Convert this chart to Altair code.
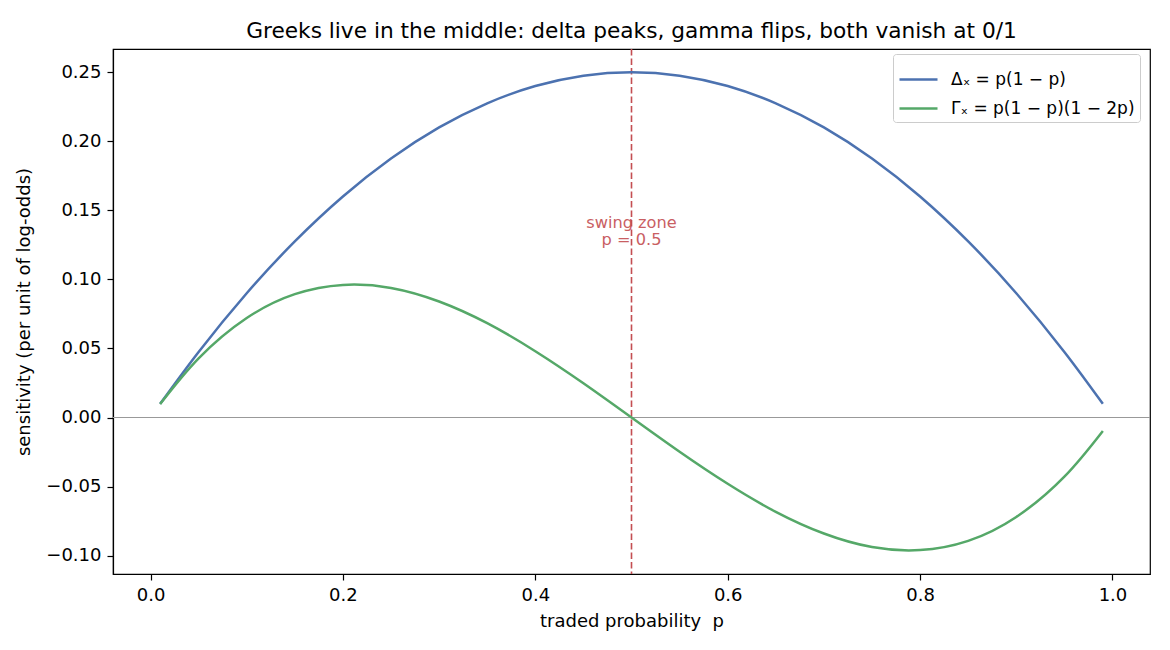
import altair as alt
import pandas as pd

# values
p_vals = [0.01, 0.05, 0.10, 0.15, 0.20, 0.25, 0.30, 0.35, 0.40, 0.45, 0.50,
          0.55, 0.60, 0.65, 0.70, 0.75, 0.80, 0.85, 0.90, 0.95, 0.99]
delta_vals = [0.0099, 0.0475, 0.090, 0.1275, 0.160, 0.1875, 0.210, 0.2275, 0.240, 0.2475, 0.250,
              0.2475, 0.240, 0.2275, 0.210, 0.1875, 0.160, 0.1275, 0.090, 0.0475, 0.0099]
gamma_vals = [0.0097, 0.0428, 0.072, 0.0893, 0.096, 0.0938, 0.084, 0.0683, 0.048, 0.0248, 0.0,
              -0.0248, -0.048, -0.0683, -0.084, -0.0938, -0.096, -0.0893, -0.072, -0.0428, -0.0097]
series_names = ["Δₓ = p(1 − p)", "Γₓ = p(1 − p)(1 − 2p)"]
series_colors = ["#4C72B0", "#55A868"]
x_ticks = [0.0, 0.2, 0.4, 0.6, 0.8, 1.0]
y_ticks = [-0.10, -0.05, 0.0, 0.05, 0.10, 0.15, 0.20, 0.25]
swing_p = [0.5]
zero_y = [0.0]
annot = pd.DataFrame({"p": [0.5], "y": [0.141], "t": ["swing zone\np = 0.5"]})

FONT = "DejaVu Sans"

df = pd.DataFrame({
    "p": p_vals * 2,
    "v": delta_vals + gamma_vals,
    "s": [series_names[0]] * len(p_vals) + [series_names[1]] * len(p_vals),
})

xs = alt.Scale(domain=[-0.039, 1.039], nice=False, zero=False)
ys = alt.Scale(domain=[-0.1133, 0.2668], nice=False, zero=False)

x_axis = alt.Axis(values=x_ticks, format=".1f", title="traded probability\u00a0 p", grid=False,
                  tickSize=6, labelPadding=6, titlePadding=8)
y_axis = alt.Axis(values=y_ticks, format=".2f", title="sensitivity (per unit of log-odds)", grid=False,
                  tickSize=6, labelPadding=6, titlePadding=12)

zero_line = alt.Chart(pd.DataFrame({"y": zero_y})).mark_rule(color="#999999", strokeWidth=1).encode(
    y=alt.Y("y:Q", scale=ys, axis=y_axis))

vline = alt.Chart(pd.DataFrame({"p": swing_p})).mark_rule(
    color="#C44E52", strokeWidth=1.6, strokeDash=[6.5, 3]).encode(
    x=alt.X("p:Q", scale=xs, axis=x_axis))

lines = alt.Chart(df).mark_line(strokeWidth=2.5, interpolate="natural").encode(
    x=alt.X("p:Q", scale=xs, axis=x_axis),
    y=alt.Y("v:Q", scale=ys, axis=y_axis),
    color=alt.Color("s:N", scale=alt.Scale(domain=series_names, range=series_colors),
                    legend=alt.Legend(title=None, orient="none", legendX=780, legendY=5)),
    detail="s:N",
)

text = alt.Chart(annot).mark_text(color="#C44E52", opacity=0.9, fontSize=16.2, font=FONT,
                                  align="center", baseline="middle", lineBreak="\n",
                                  lineHeight=17).encode(
    x=alt.X("p:Q", scale=xs), y=alt.Y("y:Q", scale=ys), text="t:N")

chart = alt.layer(zero_line, vline, lines, text).properties(
    width=1037, height=525,
    autosize=alt.AutoSizeParams(type="none"),
    padding={"left": 113, "top": 49, "right": 20, "bottom": 76},
    title=alt.TitleParams(
        "Greeks live in the middle: delta peaks, gamma flips, both vanish at 0/1",
        fontSize=21.7, font=FONT, fontWeight="normal", color="black",
        anchor="middle", baseline="alphabetic", offset=-11),
).configure(background="white").configure_view(
    stroke="black", strokeWidth=1.2
).configure_axis(
    labelFont=FONT, titleFont=FONT, labelFontSize=18, titleFontSize=18,
    labelColor="black", titleColor="black", titleFontWeight="normal",
    domainColor="black", tickColor="black", domainWidth=1.2, tickWidth=1.2,
).configure_legend(
    labelFont=FONT, labelFontSize=17, labelColor="black", labelLimit=400,
    symbolType="stroke", symbolSize=1444, symbolStrokeWidth=2.5,
    labelOffset=12, padding=5, rowPadding=0,
    strokeColor="#cccccc", fillColor="white", cornerRadius=3,
)

chart.save("out.html", embed_options={"renderer": "svg", "actions": False})
